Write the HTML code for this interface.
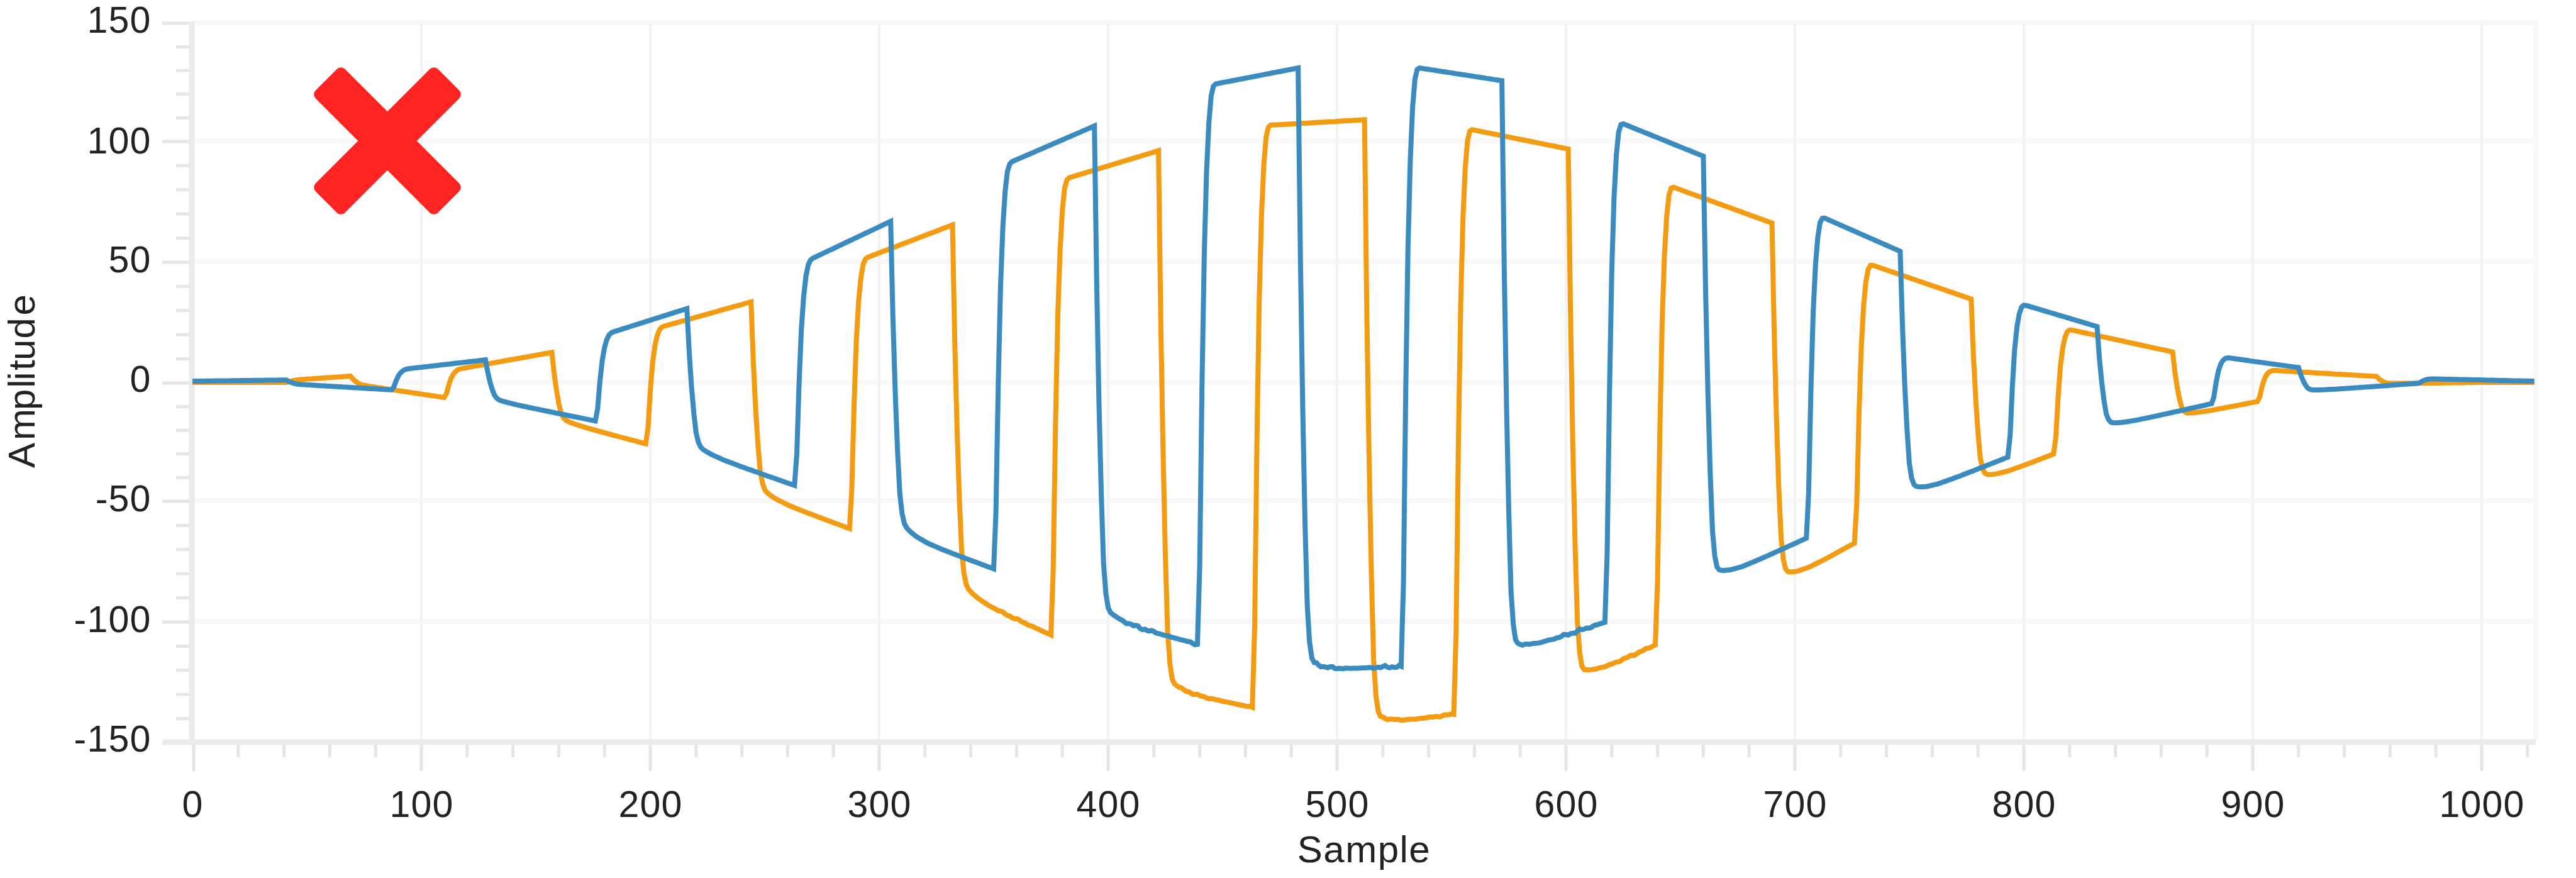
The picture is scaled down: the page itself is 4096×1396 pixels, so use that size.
<!DOCTYPE html>
<html lang="en"><head><meta charset="utf-8"><title>Amplitude vs Sample</title>
<style>html,body{margin:0;padding:0;background:#fff;}svg{display:block;}text{font-family:"Liberation Sans",Arial,sans-serif;fill:#222;}</style></head><body>
<svg width="4096" height="1396" viewBox="0 0 4096 1396">
<rect x="0" y="0" width="4096" height="1396" fill="#ffffff"/>
<g stroke="#f8f8f8" stroke-width="8" fill="none"><line x1="306" y1="36.0" x2="4036" y2="36.0"/><line x1="306" y1="224.0" x2="4036" y2="224.0"/><line x1="306" y1="416.0" x2="4036" y2="416.0"/><line x1="306" y1="608.0" x2="4036" y2="608.0"/><line x1="306" y1="796.0" x2="4036" y2="796.0"/><line x1="306" y1="988.0" x2="4036" y2="988.0"/><line x1="4032" y1="36" x2="4032" y2="1180"/></g>
<g stroke="#f3f3f3" stroke-width="4.5" fill="none"><line x1="670.0" y1="36" x2="670.0" y2="1180"/><line x1="1034.0" y1="36" x2="1034.0" y2="1180"/><line x1="1398.0" y1="36" x2="1398.0" y2="1180"/><line x1="1762.0" y1="36" x2="1762.0" y2="1180"/><line x1="2126.0" y1="36" x2="2126.0" y2="1180"/><line x1="2490.0" y1="36" x2="2490.0" y2="1180"/><line x1="2854.0" y1="36" x2="2854.0" y2="1180"/><line x1="3218.0" y1="36" x2="3218.0" y2="1180"/><line x1="3582.0" y1="36" x2="3582.0" y2="1180"/><line x1="3946.0" y1="36" x2="3946.0" y2="1180"/></g>
<g stroke="#e6e6e6" stroke-width="5" fill="none"><line x1="308.0" y1="1182" x2="308.0" y2="1226"/><line x1="378.8" y1="1182" x2="378.8" y2="1204"/><line x1="451.6" y1="1182" x2="451.6" y2="1204"/><line x1="524.4" y1="1182" x2="524.4" y2="1204"/><line x1="597.2" y1="1182" x2="597.2" y2="1204"/><line x1="670.0" y1="1182" x2="670.0" y2="1226"/><line x1="742.8" y1="1182" x2="742.8" y2="1204"/><line x1="815.6" y1="1182" x2="815.6" y2="1204"/><line x1="888.4" y1="1182" x2="888.4" y2="1204"/><line x1="961.2" y1="1182" x2="961.2" y2="1204"/><line x1="1034.0" y1="1182" x2="1034.0" y2="1226"/><line x1="1106.8" y1="1182" x2="1106.8" y2="1204"/><line x1="1179.6" y1="1182" x2="1179.6" y2="1204"/><line x1="1252.4" y1="1182" x2="1252.4" y2="1204"/><line x1="1325.2" y1="1182" x2="1325.2" y2="1204"/><line x1="1398.0" y1="1182" x2="1398.0" y2="1226"/><line x1="1470.8" y1="1182" x2="1470.8" y2="1204"/><line x1="1543.6" y1="1182" x2="1543.6" y2="1204"/><line x1="1616.4" y1="1182" x2="1616.4" y2="1204"/><line x1="1689.2" y1="1182" x2="1689.2" y2="1204"/><line x1="1762.0" y1="1182" x2="1762.0" y2="1226"/><line x1="1834.8" y1="1182" x2="1834.8" y2="1204"/><line x1="1907.6" y1="1182" x2="1907.6" y2="1204"/><line x1="1980.4" y1="1182" x2="1980.4" y2="1204"/><line x1="2053.2" y1="1182" x2="2053.2" y2="1204"/><line x1="2126.0" y1="1182" x2="2126.0" y2="1226"/><line x1="2198.8" y1="1182" x2="2198.8" y2="1204"/><line x1="2271.6" y1="1182" x2="2271.6" y2="1204"/><line x1="2344.4" y1="1182" x2="2344.4" y2="1204"/><line x1="2417.2" y1="1182" x2="2417.2" y2="1204"/><line x1="2490.0" y1="1182" x2="2490.0" y2="1226"/><line x1="2562.8" y1="1182" x2="2562.8" y2="1204"/><line x1="2635.6" y1="1182" x2="2635.6" y2="1204"/><line x1="2708.4" y1="1182" x2="2708.4" y2="1204"/><line x1="2781.2" y1="1182" x2="2781.2" y2="1204"/><line x1="2854.0" y1="1182" x2="2854.0" y2="1226"/><line x1="2926.8" y1="1182" x2="2926.8" y2="1204"/><line x1="2999.6" y1="1182" x2="2999.6" y2="1204"/><line x1="3072.4" y1="1182" x2="3072.4" y2="1204"/><line x1="3145.2" y1="1182" x2="3145.2" y2="1204"/><line x1="3218.0" y1="1182" x2="3218.0" y2="1226"/><line x1="3290.8" y1="1182" x2="3290.8" y2="1204"/><line x1="3363.6" y1="1182" x2="3363.6" y2="1204"/><line x1="3436.4" y1="1182" x2="3436.4" y2="1204"/><line x1="3509.2" y1="1182" x2="3509.2" y2="1204"/><line x1="3582.0" y1="1182" x2="3582.0" y2="1226"/><line x1="3654.8" y1="1182" x2="3654.8" y2="1204"/><line x1="3727.6" y1="1182" x2="3727.6" y2="1204"/><line x1="3800.4" y1="1182" x2="3800.4" y2="1204"/><line x1="3873.2" y1="1182" x2="3873.2" y2="1204"/><line x1="3946.0" y1="1182" x2="3946.0" y2="1226"/><line x1="4018.8" y1="1182" x2="4018.8" y2="1204"/><line x1="258" y1="37.0" x2="302" y2="37.0"/><line x1="280" y1="74.6" x2="302" y2="74.6"/><line x1="280" y1="112.2" x2="302" y2="112.2"/><line x1="280" y1="149.8" x2="302" y2="149.8"/><line x1="280" y1="187.4" x2="302" y2="187.4"/><line x1="258" y1="225.0" x2="302" y2="225.0"/><line x1="280" y1="263.4" x2="302" y2="263.4"/><line x1="280" y1="301.8" x2="302" y2="301.8"/><line x1="280" y1="340.2" x2="302" y2="340.2"/><line x1="280" y1="378.6" x2="302" y2="378.6"/><line x1="258" y1="417.0" x2="302" y2="417.0"/><line x1="280" y1="455.4" x2="302" y2="455.4"/><line x1="280" y1="493.8" x2="302" y2="493.8"/><line x1="280" y1="532.2" x2="302" y2="532.2"/><line x1="280" y1="570.6" x2="302" y2="570.6"/><line x1="258" y1="609.0" x2="302" y2="609.0"/><line x1="280" y1="646.6" x2="302" y2="646.6"/><line x1="280" y1="684.2" x2="302" y2="684.2"/><line x1="280" y1="721.8" x2="302" y2="721.8"/><line x1="280" y1="759.4" x2="302" y2="759.4"/><line x1="258" y1="797.0" x2="302" y2="797.0"/><line x1="280" y1="835.4" x2="302" y2="835.4"/><line x1="280" y1="873.8" x2="302" y2="873.8"/><line x1="280" y1="912.2" x2="302" y2="912.2"/><line x1="280" y1="950.6" x2="302" y2="950.6"/><line x1="258" y1="989.0" x2="302" y2="989.0"/><line x1="280" y1="1027.4" x2="302" y2="1027.4"/><line x1="280" y1="1065.8" x2="302" y2="1065.8"/><line x1="280" y1="1104.2" x2="302" y2="1104.2"/><line x1="280" y1="1142.6" x2="302" y2="1142.6"/><line x1="258" y1="1181.0" x2="302" y2="1181.0"/></g>
<g stroke="#ebebeb" stroke-width="9" fill="none"><line x1="305" y1="34" x2="305" y2="1184"/><line x1="260" y1="1180" x2="4032" y2="1180"/></g>
<path d="M306.0 608.0 L309.6 608.0 L313.3 608.0 L316.9 608.0 L320.6 608.0 L324.2 608.0 L327.8 608.0 L331.5 608.0 L335.1 608.0 L338.8 608.0 L342.4 608.0 L346.0 608.0 L349.7 608.0 L353.3 608.0 L357.0 608.0 L360.6 608.0 L364.2 608.0 L367.9 608.0 L371.5 608.0 L375.2 608.0 L378.8 608.0 L382.4 608.0 L386.1 608.0 L389.7 608.0 L393.4 608.0 L397.0 608.0 L400.6 608.0 L404.3 608.0 L407.9 608.0 L411.6 608.0 L415.2 608.0 L418.8 608.0 L422.5 608.0 L426.1 608.0 L429.8 608.0 L433.4 608.0 L437.0 608.0 L440.7 608.0 L444.3 608.0 L448.0 608.0 L451.6 608.0 L455.2 608.0 L458.9 607.3 L462.5 606.1 L466.2 605.1 L469.8 604.4 L473.4 603.9 L477.1 603.5 L480.7 603.2 L484.4 603.0 L488.0 602.7 L491.6 602.5 L495.3 602.3 L498.9 602.0 L502.6 601.8 L506.2 601.5 L509.8 601.3 L513.5 601.0 L517.1 600.8 L520.8 600.5 L524.4 600.3 L528.0 600.1 L531.7 599.8 L535.3 599.6 L539.0 599.3 L542.6 599.1 L546.2 598.8 L549.9 598.6 L553.5 598.3 L557.2 598.1 L560.8 602.3 L564.4 605.6 L568.1 608.3 L571.7 610.5 L575.4 611.7 L579.0 612.6 L582.6 613.3 L586.3 613.9 L589.9 614.5 L593.6 615.0 L597.2 615.6 L600.8 616.2 L604.5 616.7 L608.1 617.3 L611.8 617.9 L615.4 618.4 L619.0 619.0 L622.7 619.5 L626.3 620.1 L630.0 620.6 L633.6 621.2 L637.2 621.7 L640.9 622.2 L644.5 622.8 L648.2 623.3 L651.8 623.9 L655.4 624.4 L659.1 625.0 L662.7 625.5 L666.4 626.0 L670.0 626.6 L673.6 627.1 L677.3 627.7 L680.9 628.2 L684.6 628.8 L688.2 629.3 L691.8 629.8 L695.5 630.4 L699.1 630.9 L702.8 631.5 L706.4 632.0 L710.0 625.6 L713.7 611.8 L717.3 601.3 L721.0 594.6 L724.6 590.4 L728.2 587.8 L731.9 586.5 L735.5 585.7 L739.2 585.0 L742.8 584.4 L746.4 583.7 L750.1 583.1 L753.7 582.4 L757.4 581.8 L761.0 581.1 L764.6 580.5 L768.3 579.8 L771.9 579.2 L775.6 578.5 L779.2 577.9 L782.8 577.2 L786.5 576.6 L790.1 575.9 L793.8 575.3 L797.4 574.6 L801.0 574.0 L804.7 573.3 L808.3 572.7 L812.0 572.0 L815.6 571.4 L819.2 570.8 L822.9 570.1 L826.5 569.5 L830.2 568.8 L833.8 568.2 L837.4 567.5 L841.1 566.9 L844.7 566.2 L848.4 565.6 L852.0 564.9 L855.6 564.3 L859.3 563.6 L862.9 563.0 L866.6 562.3 L870.2 561.7 L873.8 561.0 L877.5 560.4 L881.1 594.0 L884.8 620.3 L888.4 640.8 L892.0 656.3 L895.7 663.7 L899.3 667.8 L903.0 670.0 L906.6 671.5 L910.2 672.9 L913.9 674.2 L917.5 675.4 L921.2 676.6 L924.8 677.8 L928.4 678.9 L932.1 680.0 L935.7 681.1 L939.4 682.2 L943.0 683.2 L946.6 684.2 L950.3 685.2 L953.9 686.2 L957.6 687.2 L961.2 688.2 L964.8 689.1 L968.5 690.1 L972.1 691.1 L975.8 692.1 L979.4 693.0 L983.0 694.0 L986.7 695.0 L990.3 695.9 L994.0 696.9 L997.6 697.9 L1001.2 698.8 L1004.9 699.8 L1008.5 700.7 L1012.2 701.7 L1015.8 702.7 L1019.4 703.6 L1023.1 704.6 L1026.7 705.5 L1030.4 679.5 L1034.0 621.5 L1037.6 577.5 L1041.3 550.3 L1044.9 533.8 L1048.6 524.3 L1052.2 520.3 L1055.8 518.7 L1059.5 517.7 L1063.1 516.7 L1066.8 515.6 L1070.4 514.6 L1074.0 513.6 L1077.7 512.6 L1081.3 511.6 L1085.0 510.5 L1088.6 509.5 L1092.2 508.5 L1095.9 507.5 L1099.5 506.5 L1103.2 505.5 L1106.8 504.4 L1110.4 503.4 L1114.1 502.4 L1117.7 501.4 L1121.4 500.4 L1125.0 499.3 L1128.6 498.3 L1132.3 497.3 L1135.9 496.3 L1139.6 495.3 L1143.2 494.2 L1146.8 493.2 L1150.5 492.2 L1154.1 491.2 L1157.8 490.2 L1161.4 489.2 L1165.0 488.1 L1168.7 487.1 L1172.3 486.1 L1176.0 485.1 L1179.6 484.1 L1183.2 483.0 L1186.9 482.0 L1190.5 481.0 L1194.2 480.0 L1197.8 574.8 L1201.4 648.2 L1205.1 705.4 L1208.7 748.4 L1212.4 768.3 L1216.0 778.5 L1219.6 783.3 L1223.3 786.2 L1226.9 788.9 L1230.6 791.1 L1234.2 793.4 L1237.8 795.4 L1241.5 797.2 L1245.1 799.0 L1248.8 800.9 L1252.4 802.6 L1256.0 804.2 L1259.7 805.7 L1263.3 807.2 L1267.0 808.7 L1270.6 810.2 L1274.2 811.6 L1277.9 813.1 L1281.5 814.5 L1285.2 815.9 L1288.8 817.3 L1292.4 818.6 L1296.1 820.0 L1299.7 821.4 L1303.4 822.8 L1307.0 824.1 L1310.6 825.5 L1314.3 826.9 L1317.9 828.2 L1321.6 829.6 L1325.2 830.9 L1328.8 832.3 L1332.5 833.6 L1336.1 835.0 L1339.8 836.3 L1343.4 837.7 L1347.0 839.1 L1350.7 840.4 L1354.3 780.2 L1358.0 644.7 L1361.6 542.4 L1365.2 479.3 L1368.9 441.6 L1372.5 420.2 L1376.2 411.8 L1379.8 409.1 L1383.4 407.7 L1387.1 406.3 L1390.7 404.9 L1394.4 403.5 L1398.0 402.1 L1401.6 400.7 L1405.3 399.3 L1408.9 398.0 L1412.6 396.6 L1416.2 395.2 L1419.8 393.8 L1423.5 392.4 L1427.1 391.0 L1430.8 389.6 L1434.4 388.2 L1438.0 386.8 L1441.7 385.5 L1445.3 384.1 L1449.0 382.7 L1452.6 381.3 L1456.2 379.9 L1459.9 378.5 L1463.5 377.1 L1467.2 375.7 L1470.8 374.3 L1474.4 373.0 L1478.1 371.6 L1481.7 370.2 L1485.4 368.8 L1489.0 367.4 L1492.6 366.0 L1496.3 364.6 L1499.9 363.2 L1503.6 361.8 L1507.2 360.5 L1510.8 359.1 L1514.5 357.7 L1518.1 540.6 L1521.8 682.2 L1525.4 791.9 L1529.0 874.1 L1532.7 911.1 L1536.3 929.3 L1540.0 936.8 L1543.6 940.9 L1547.2 944.6 L1550.9 947.6 L1554.5 950.7 L1558.2 953.5 L1561.8 955.8 L1565.4 958.2 L1569.1 960.6 L1572.7 963.0 L1576.4 965.0 L1580.0 966.9 L1583.6 968.7 L1587.3 970.9 L1590.9 971.8 L1594.6 973.0 L1598.2 976.3 L1601.8 978.5 L1605.5 979.5 L1609.1 982.1 L1612.8 983.8 L1616.4 983.5 L1620.0 985.2 L1623.7 988.2 L1627.3 989.5 L1631.0 991.3 L1634.6 993.9 L1638.2 995.0 L1641.9 995.9 L1645.5 997.9 L1649.2 999.6 L1652.8 1001.2 L1656.4 1003.0 L1660.1 1004.6 L1663.7 1006.3 L1667.4 1007.9 L1671.0 1009.6 L1674.6 907.9 L1678.3 677.7 L1681.9 504.0 L1685.6 397.6 L1689.2 334.4 L1692.8 299.1 L1696.5 286.1 L1700.1 282.6 L1703.8 281.5 L1707.4 280.4 L1711.0 279.3 L1714.7 278.2 L1718.3 277.1 L1722.0 276.0 L1725.6 274.9 L1729.2 273.7 L1732.9 272.6 L1736.5 271.5 L1740.2 270.4 L1743.8 269.3 L1747.4 268.2 L1751.1 267.1 L1754.7 266.0 L1758.4 264.9 L1762.0 263.8 L1765.6 262.7 L1769.3 261.6 L1772.9 260.5 L1776.6 259.4 L1780.2 258.3 L1783.8 257.2 L1787.5 256.1 L1791.1 255.0 L1794.8 253.9 L1798.4 252.8 L1802.0 251.7 L1805.7 250.6 L1809.3 249.5 L1813.0 248.4 L1816.6 247.3 L1820.2 246.2 L1823.9 245.1 L1827.5 244.0 L1831.2 242.9 L1834.8 241.8 L1838.4 240.7 L1842.1 239.6 L1845.7 511.5 L1849.4 721.1 L1853.0 883.2 L1856.6 1003.7 L1860.3 1055.7 L1863.9 1079.5 L1867.6 1087.2 L1871.2 1090.4 L1874.8 1092.7 L1878.5 1093.6 L1882.1 1096.4 L1885.8 1099.2 L1889.4 1099.8 L1893.0 1101.6 L1896.7 1104.0 L1900.3 1103.9 L1904.0 1103.9 L1907.6 1106.1 L1911.2 1107.0 L1914.9 1107.6 L1918.5 1109.8 L1922.2 1111.0 L1925.8 1110.5 L1929.4 1111.3 L1933.1 1112.5 L1936.7 1113.0 L1940.4 1113.9 L1944.0 1115.0 L1947.6 1115.7 L1951.3 1116.4 L1954.9 1117.1 L1958.6 1117.9 L1962.2 1118.6 L1965.8 1119.4 L1969.5 1120.3 L1973.1 1121.0 L1976.8 1121.7 L1980.4 1122.8 L1984.0 1122.9 L1987.7 1122.9 L1991.3 1124.6 L1995.0 995.1 L1998.6 700.1 L2002.2 477.9 L2005.9 342.2 L2009.5 262.0 L2013.2 217.9 L2016.8 202.3 L2020.4 199.0 L2024.1 198.8 L2027.7 198.6 L2031.4 198.4 L2035.0 198.2 L2038.6 198.0 L2042.3 197.8 L2045.9 197.6 L2049.6 197.4 L2053.2 197.1 L2056.8 196.9 L2060.5 196.7 L2064.1 196.5 L2067.8 196.3 L2071.4 196.1 L2075.0 195.9 L2078.7 195.7 L2082.3 195.5 L2086.0 195.3 L2089.6 195.0 L2093.2 194.8 L2096.9 194.6 L2100.5 194.4 L2104.2 194.2 L2107.8 194.0 L2111.4 193.8 L2115.1 193.6 L2118.7 193.4 L2122.4 193.2 L2126.0 192.9 L2129.6 192.7 L2133.3 192.5 L2136.9 192.3 L2140.6 192.1 L2144.2 191.9 L2147.8 191.7 L2151.5 191.5 L2155.1 191.3 L2158.8 191.1 L2162.4 190.8 L2166.0 190.6 L2169.7 190.4 L2173.3 496.8 L2177.0 732.7 L2180.6 914.7 L2184.2 1049.7 L2187.9 1106.8 L2191.5 1131.2 L2195.2 1139.1 L2198.8 1140.0 L2202.4 1142.4 L2206.1 1144.0 L2209.7 1143.4 L2213.4 1143.3 L2217.0 1143.9 L2220.6 1143.7 L2224.3 1143.9 L2227.9 1145.1 L2231.6 1145.0 L2235.2 1144.3 L2238.8 1143.9 L2242.5 1143.6 L2246.1 1143.4 L2249.8 1143.2 L2253.4 1142.9 L2257.0 1142.5 L2260.7 1142.1 L2264.3 1141.8 L2268.0 1141.3 L2271.6 1140.2 L2275.2 1139.9 L2278.9 1140.1 L2282.5 1139.2 L2286.2 1139.2 L2289.8 1139.9 L2293.4 1138.2 L2297.1 1136.4 L2300.7 1136.8 L2304.4 1136.3 L2308.0 1135.2 L2311.6 1135.7 L2315.3 1005.5 L2318.9 707.7 L2322.6 483.8 L2326.2 347.3 L2329.8 267.1 L2333.5 223.4 L2337.1 208.6 L2340.8 206.2 L2344.4 206.9 L2348.0 207.6 L2351.7 208.4 L2355.3 209.1 L2359.0 209.8 L2362.6 210.6 L2366.2 211.3 L2369.9 212.0 L2373.5 212.8 L2377.2 213.5 L2380.8 214.2 L2384.4 215.0 L2388.1 215.7 L2391.7 216.4 L2395.4 217.2 L2399.0 217.9 L2402.6 218.6 L2406.3 219.3 L2409.9 220.1 L2413.6 220.8 L2417.2 221.5 L2420.8 222.3 L2424.5 223.0 L2428.1 223.7 L2431.8 224.5 L2435.4 225.2 L2439.0 225.9 L2442.7 226.7 L2446.3 227.4 L2450.0 228.1 L2453.6 228.9 L2457.2 229.6 L2460.9 230.3 L2464.5 231.1 L2468.2 231.8 L2471.8 232.5 L2475.4 233.2 L2479.1 234.0 L2482.7 234.7 L2486.4 235.4 L2490.0 236.2 L2493.6 236.9 L2497.3 505.3 L2500.9 711.7 L2504.6 870.7 L2508.2 988.4 L2511.8 1037.7 L2515.5 1059.6 L2519.1 1064.6 L2522.8 1064.9 L2526.4 1065.3 L2530.0 1064.6 L2533.7 1064.3 L2537.3 1063.8 L2541.0 1062.6 L2544.6 1061.6 L2548.2 1060.8 L2551.9 1060.1 L2555.5 1058.5 L2559.2 1056.8 L2562.8 1055.7 L2566.4 1054.1 L2570.1 1052.6 L2573.7 1052.3 L2577.4 1050.6 L2581.0 1047.5 L2584.6 1046.2 L2588.3 1045.0 L2591.9 1042.4 L2595.6 1041.8 L2599.2 1041.9 L2602.8 1039.2 L2606.5 1036.6 L2610.1 1035.6 L2613.8 1033.4 L2617.4 1031.1 L2621.0 1030.5 L2624.7 1029.4 L2628.3 1027.2 L2632.0 1025.6 L2635.6 923.5 L2639.2 689.2 L2642.9 513.2 L2646.5 406.2 L2650.2 343.6 L2653.8 309.9 L2657.4 298.9 L2661.1 297.8 L2664.7 299.1 L2668.4 300.4 L2672.0 301.7 L2675.6 303.1 L2679.3 304.4 L2682.9 305.7 L2686.6 307.0 L2690.2 308.4 L2693.8 309.7 L2697.5 311.0 L2701.1 312.3 L2704.8 313.6 L2708.4 315.0 L2712.0 316.3 L2715.7 317.6 L2719.3 318.9 L2723.0 320.3 L2726.6 321.6 L2730.2 322.9 L2733.9 324.2 L2737.5 325.5 L2741.2 326.9 L2744.8 328.2 L2748.4 329.5 L2752.1 330.8 L2755.7 332.2 L2759.4 333.5 L2763.0 334.8 L2766.6 336.1 L2770.3 337.4 L2773.9 338.8 L2777.6 340.1 L2781.2 341.4 L2784.8 342.7 L2788.5 344.1 L2792.1 345.4 L2795.8 346.7 L2799.4 348.0 L2803.0 349.3 L2806.7 350.7 L2810.3 352.0 L2814.0 353.3 L2817.6 354.6 L2821.2 534.2 L2824.9 672.2 L2828.5 778.5 L2832.2 857.1 L2835.8 890.4 L2839.4 905.0 L2843.1 908.9 L2846.7 909.3 L2850.4 909.3 L2854.0 908.7 L2857.6 908.1 L2861.3 907.2 L2864.9 905.8 L2868.6 904.5 L2872.2 903.3 L2875.8 902.0 L2879.5 900.4 L2883.1 898.5 L2886.8 896.7 L2890.4 894.9 L2894.0 893.1 L2897.7 891.3 L2901.3 889.4 L2905.0 887.5 L2908.6 885.5 L2912.2 883.6 L2915.9 881.6 L2919.5 879.6 L2923.2 877.6 L2926.8 875.6 L2930.4 873.6 L2934.1 871.6 L2937.7 869.6 L2941.4 867.6 L2945.0 865.6 L2948.6 863.7 L2952.3 801.6 L2955.9 658.7 L2959.6 551.4 L2963.2 486.4 L2966.8 448.5 L2970.5 428.3 L2974.1 422.0 L2977.8 421.8 L2981.4 423.0 L2985.0 424.3 L2988.7 425.5 L2992.3 426.8 L2996.0 428.0 L2999.6 429.3 L3003.2 430.5 L3006.9 431.7 L3010.5 433.0 L3014.2 434.2 L3017.8 435.5 L3021.4 436.7 L3025.1 438.0 L3028.7 439.2 L3032.4 440.5 L3036.0 441.7 L3039.6 443.0 L3043.3 444.2 L3046.9 445.5 L3050.6 446.7 L3054.2 448.0 L3057.8 449.2 L3061.5 450.5 L3065.1 451.7 L3068.8 453.0 L3072.4 454.2 L3076.0 455.5 L3079.7 456.7 L3083.3 457.9 L3087.0 459.2 L3090.6 460.4 L3094.2 461.7 L3097.9 462.9 L3101.5 464.2 L3105.2 465.4 L3108.8 466.7 L3112.4 467.9 L3116.1 469.2 L3119.7 470.4 L3123.4 471.7 L3127.0 472.9 L3130.6 474.2 L3134.3 475.4 L3137.9 565.9 L3141.6 635.4 L3145.2 688.8 L3148.8 728.3 L3152.5 745.2 L3156.1 752.5 L3159.8 754.4 L3163.4 754.6 L3167.0 754.5 L3170.7 753.9 L3174.3 753.4 L3178.0 752.7 L3181.6 751.7 L3185.2 750.8 L3188.9 749.8 L3192.5 748.9 L3196.2 747.7 L3199.8 746.4 L3203.4 745.1 L3207.1 743.8 L3210.7 742.5 L3214.4 741.3 L3218.0 739.9 L3221.6 738.6 L3225.3 737.2 L3228.9 735.9 L3232.6 734.5 L3236.2 733.1 L3239.8 731.7 L3243.5 730.3 L3247.1 728.9 L3250.8 727.5 L3254.4 726.1 L3258.0 724.7 L3261.7 723.3 L3265.3 721.9 L3269.0 694.2 L3272.6 630.1 L3276.2 582.0 L3279.9 553.0 L3283.5 536.2 L3287.2 527.3 L3290.8 524.7 L3294.4 524.8 L3298.1 525.6 L3301.7 526.4 L3305.4 527.2 L3309.0 528.0 L3312.6 528.8 L3316.3 529.5 L3319.9 530.3 L3323.6 531.1 L3327.2 531.9 L3330.8 532.7 L3334.5 533.5 L3338.1 534.3 L3341.8 535.1 L3345.4 535.9 L3349.0 536.7 L3352.7 537.5 L3356.3 538.2 L3360.0 539.0 L3363.6 539.8 L3367.2 540.6 L3370.9 541.4 L3374.5 542.2 L3378.2 543.0 L3381.8 543.8 L3385.4 544.6 L3389.1 545.4 L3392.7 546.2 L3396.4 547.0 L3400.0 547.7 L3403.6 548.5 L3407.3 549.3 L3410.9 550.1 L3414.6 550.9 L3418.2 551.7 L3421.8 552.5 L3425.5 553.3 L3429.1 554.1 L3432.8 554.9 L3436.4 555.7 L3440.0 556.4 L3443.7 557.2 L3447.3 558.0 L3451.0 558.8 L3454.6 559.6 L3458.2 591.4 L3461.9 615.7 L3465.5 634.4 L3469.2 648.2 L3472.8 653.9 L3476.4 656.3 L3480.1 656.8 L3483.7 656.6 L3487.4 656.4 L3491.0 656.0 L3494.6 655.6 L3498.3 655.1 L3501.9 654.6 L3505.6 654.0 L3509.2 653.5 L3512.8 652.9 L3516.5 652.3 L3520.1 651.6 L3523.8 651.0 L3527.4 650.3 L3531.0 649.6 L3534.7 649.0 L3538.3 648.3 L3542.0 647.6 L3545.6 646.9 L3549.2 646.2 L3552.9 645.5 L3556.5 644.8 L3560.2 644.1 L3563.8 643.4 L3567.4 642.7 L3571.1 642.0 L3574.7 641.3 L3578.4 640.6 L3582.0 639.9 L3585.6 639.2 L3589.3 638.5 L3592.9 631.5 L3596.6 615.5 L3600.2 603.4 L3603.8 596.1 L3607.5 591.9 L3611.1 589.7 L3614.8 589.1 L3618.4 589.1 L3622.0 589.3 L3625.7 589.6 L3629.3 589.8 L3633.0 590.0 L3636.6 590.2 L3640.2 590.4 L3643.9 590.6 L3647.5 590.8 L3651.2 591.0 L3654.8 591.3 L3658.4 591.5 L3662.1 591.7 L3665.7 591.9 L3669.4 592.1 L3673.0 592.3 L3676.6 592.5 L3680.3 592.7 L3683.9 593.0 L3687.6 593.2 L3691.2 593.4 L3694.8 593.6 L3698.5 593.8 L3702.1 594.0 L3705.8 594.2 L3709.4 594.4 L3713.0 594.7 L3716.7 594.9 L3720.3 595.1 L3724.0 595.3 L3727.6 595.5 L3731.2 595.7 L3734.9 595.9 L3738.5 596.1 L3742.2 596.4 L3745.8 596.6 L3749.4 596.8 L3753.1 597.0 L3756.7 597.2 L3760.4 597.4 L3764.0 597.6 L3767.6 597.8 L3771.3 598.1 L3774.9 598.3 L3778.6 598.5 L3782.2 602.0 L3785.8 604.8 L3789.5 606.9 L3793.1 608.5 L3796.8 609.1 L3800.4 609.4 L3804.0 609.5 L3807.7 609.5 L3811.3 609.5 L3815.0 609.5 L3818.6 609.5 L3822.2 609.5 L3825.9 609.5 L3829.5 609.4 L3833.2 609.4 L3836.8 609.4 L3840.4 609.3 L3844.1 609.3 L3847.7 609.3 L3851.4 609.2 L3855.0 609.2 L3858.6 609.1 L3862.3 609.1 L3865.9 609.0 L3869.6 609.0 L3873.2 608.9 L3876.8 608.9 L3880.5 608.9 L3884.1 608.8 L3887.8 608.8 L3891.4 608.7 L3895.0 608.7 L3898.7 608.6 L3902.3 608.6 L3906.0 608.5 L3909.6 608.5 L3913.2 608.4 L3916.9 608.4 L3920.5 608.3 L3924.2 608.3 L3927.8 608.2 L3931.4 608.2 L3935.1 608.1 L3938.7 608.1 L3942.4 608.0 L3946.0 608.0 L3949.6 608.0 L3953.3 608.0 L3956.9 608.0 L3960.6 608.0 L3964.2 608.0 L3967.8 608.0 L3971.5 608.0 L3975.1 608.0 L3978.8 608.0 L3982.4 608.0 L3986.0 608.0 L3989.7 608.0 L3993.3 608.0 L3997.0 608.0 L4000.6 608.0 L4004.2 608.0 L4007.9 608.0 L4011.5 608.0 L4015.2 608.0 L4018.8 608.0 L4022.4 608.0 L4026.1 608.0 L4029.7 608.0" fill="none" stroke="#f39c12" stroke-width="8" stroke-linejoin="miter" stroke-miterlimit="3" stroke-linecap="butt"/>
<path d="M306.0 606.1 L309.6 606.0 L313.3 606.0 L316.9 606.0 L320.6 605.9 L324.2 605.9 L327.8 605.8 L331.5 605.8 L335.1 605.7 L338.8 605.7 L342.4 605.6 L346.0 605.6 L349.7 605.5 L353.3 605.5 L357.0 605.4 L360.6 605.4 L364.2 605.4 L367.9 605.3 L371.5 605.3 L375.2 605.2 L378.8 605.2 L382.4 605.1 L386.1 605.1 L389.7 605.0 L393.4 605.0 L397.0 604.9 L400.6 604.9 L404.3 604.8 L407.9 604.8 L411.6 604.7 L415.2 604.7 L418.8 604.7 L422.5 604.6 L426.1 604.6 L429.8 604.5 L433.4 604.5 L437.0 604.4 L440.7 604.4 L444.3 604.3 L448.0 604.3 L451.6 604.2 L455.2 604.2 L458.9 606.2 L462.5 607.8 L466.2 609.1 L469.8 610.1 L473.4 610.7 L477.1 611.1 L480.7 611.4 L484.4 611.6 L488.0 611.9 L491.6 612.1 L495.3 612.3 L498.9 612.5 L502.6 612.8 L506.2 613.0 L509.8 613.2 L513.5 613.4 L517.1 613.6 L520.8 613.9 L524.4 614.1 L528.0 614.3 L531.7 614.5 L535.3 614.7 L539.0 614.9 L542.6 615.1 L546.2 615.4 L549.9 615.6 L553.5 615.8 L557.2 616.0 L560.8 616.2 L564.4 616.4 L568.1 616.6 L571.7 616.8 L575.4 617.1 L579.0 617.3 L582.6 617.5 L586.3 617.7 L589.9 617.9 L593.6 618.1 L597.2 618.3 L600.8 618.5 L604.5 618.7 L608.1 619.0 L611.8 619.2 L615.4 619.4 L619.0 619.6 L622.7 619.8 L626.3 615.1 L630.0 605.0 L633.6 597.2 L637.2 592.4 L640.9 589.3 L644.5 587.4 L648.2 586.5 L651.8 586.0 L655.4 585.6 L659.1 585.1 L662.7 584.7 L666.4 584.3 L670.0 583.9 L673.6 583.5 L677.3 583.1 L680.9 582.6 L684.6 582.2 L688.2 581.8 L691.8 581.4 L695.5 581.0 L699.1 580.5 L702.8 580.1 L706.4 579.7 L710.0 579.3 L713.7 578.9 L717.3 578.5 L721.0 578.0 L724.6 577.6 L728.2 577.2 L731.9 576.8 L735.5 576.4 L739.2 575.9 L742.8 575.5 L746.4 575.1 L750.1 574.7 L753.7 574.3 L757.4 573.9 L761.0 573.4 L764.6 573.0 L768.3 572.6 L771.9 572.2 L775.6 592.0 L779.2 607.5 L782.8 619.6 L786.5 628.8 L790.1 633.3 L793.8 635.9 L797.4 637.3 L801.0 638.4 L804.7 639.4 L808.3 640.3 L812.0 641.2 L815.6 642.1 L819.2 643.0 L822.9 643.8 L826.5 644.6 L830.2 645.5 L833.8 646.2 L837.4 647.0 L841.1 647.8 L844.7 648.5 L848.4 649.3 L852.0 650.1 L855.6 650.8 L859.3 651.6 L862.9 652.3 L866.6 653.1 L870.2 653.8 L873.8 654.5 L877.5 655.3 L881.1 656.0 L884.8 656.8 L888.4 657.5 L892.0 658.3 L895.7 659.0 L899.3 659.7 L903.0 660.5 L906.6 661.2 L910.2 662.0 L913.9 662.7 L917.5 663.4 L921.2 664.2 L924.8 664.9 L928.4 665.6 L932.1 666.4 L935.7 667.1 L939.4 667.9 L943.0 668.6 L946.6 669.3 L950.3 649.6 L953.9 606.2 L957.6 573.2 L961.2 552.6 L964.8 539.9 L968.5 532.5 L972.1 529.1 L975.8 527.5 L979.4 526.4 L983.0 525.2 L986.7 524.1 L990.3 522.9 L994.0 521.8 L997.6 520.6 L1001.2 519.5 L1004.9 518.3 L1008.5 517.2 L1012.2 516.0 L1015.8 514.9 L1019.4 513.7 L1023.1 512.5 L1026.7 511.4 L1030.4 510.2 L1034.0 509.1 L1037.6 507.9 L1041.3 506.8 L1044.9 505.6 L1048.6 504.5 L1052.2 503.3 L1055.8 502.2 L1059.5 501.0 L1063.1 499.9 L1066.8 498.7 L1070.4 497.6 L1074.0 496.4 L1077.7 495.3 L1081.3 494.1 L1085.0 493.0 L1088.6 491.8 L1092.2 490.7 L1095.9 560.3 L1099.5 614.3 L1103.2 656.4 L1106.8 688.1 L1110.4 702.9 L1114.1 710.7 L1117.7 714.5 L1121.4 716.9 L1125.0 719.1 L1128.6 721.1 L1132.3 723.0 L1135.9 724.8 L1139.6 726.4 L1143.2 728.0 L1146.8 729.7 L1150.5 731.3 L1154.1 732.7 L1157.8 734.1 L1161.4 735.5 L1165.0 736.8 L1168.7 738.2 L1172.3 739.6 L1176.0 740.9 L1179.6 742.2 L1183.2 743.5 L1186.9 744.9 L1190.5 746.2 L1194.2 747.4 L1197.8 748.7 L1201.4 750.0 L1205.1 751.3 L1208.7 752.6 L1212.4 753.9 L1216.0 755.2 L1219.6 756.5 L1223.3 757.7 L1226.9 759.0 L1230.6 760.3 L1234.2 761.6 L1237.8 762.9 L1241.5 764.1 L1245.1 765.4 L1248.8 766.7 L1252.4 768.0 L1256.0 769.3 L1259.7 770.5 L1263.3 771.8 L1267.0 721.5 L1270.6 608.9 L1274.2 523.7 L1277.9 471.0 L1281.5 439.2 L1285.2 421.0 L1288.8 413.5 L1292.4 410.6 L1296.1 408.8 L1299.7 407.1 L1303.4 405.4 L1307.0 403.7 L1310.6 402.0 L1314.3 400.2 L1317.9 398.5 L1321.6 396.8 L1325.2 395.1 L1328.8 393.3 L1332.5 391.6 L1336.1 389.9 L1339.8 388.2 L1343.4 386.4 L1347.0 384.7 L1350.7 383.0 L1354.3 381.3 L1358.0 379.5 L1361.6 377.8 L1365.2 376.1 L1368.9 374.4 L1372.5 372.7 L1376.2 370.9 L1379.8 369.2 L1383.4 367.5 L1387.1 365.8 L1390.7 364.0 L1394.4 362.3 L1398.0 360.6 L1401.6 358.9 L1405.3 357.1 L1408.9 355.4 L1412.6 353.7 L1416.2 352.0 L1419.8 505.3 L1423.5 624.0 L1427.1 716.1 L1430.8 785.1 L1434.4 816.6 L1438.0 832.4 L1441.7 839.3 L1445.3 843.2 L1449.0 846.7 L1452.6 849.6 L1456.2 852.4 L1459.9 854.9 L1463.5 857.0 L1467.2 859.1 L1470.8 861.2 L1474.4 863.2 L1478.1 865.0 L1481.7 866.5 L1485.4 868.1 L1489.0 869.6 L1492.6 871.2 L1496.3 872.7 L1499.9 874.2 L1503.6 875.7 L1507.2 877.1 L1510.8 878.5 L1514.5 879.9 L1518.1 881.3 L1521.8 882.7 L1525.4 884.1 L1529.0 885.4 L1532.7 886.8 L1536.3 888.2 L1540.0 889.5 L1543.6 890.9 L1547.2 892.2 L1550.9 893.6 L1554.5 894.9 L1558.2 896.3 L1561.8 897.7 L1565.4 899.0 L1569.1 900.4 L1572.7 901.7 L1576.4 903.1 L1580.0 904.4 L1583.6 814.0 L1587.3 609.9 L1590.9 455.8 L1594.6 361.1 L1598.2 304.6 L1601.8 272.9 L1605.5 260.8 L1609.1 257.1 L1612.8 255.5 L1616.4 253.9 L1620.0 252.3 L1623.7 250.8 L1627.3 249.2 L1631.0 247.6 L1634.6 246.0 L1638.2 244.5 L1641.9 242.9 L1645.5 241.3 L1649.2 239.7 L1652.8 238.2 L1656.4 236.6 L1660.1 235.0 L1663.7 233.4 L1667.4 231.8 L1671.0 230.3 L1674.6 228.7 L1678.3 227.1 L1681.9 225.5 L1685.6 224.0 L1689.2 222.4 L1692.8 220.8 L1696.5 219.2 L1700.1 217.7 L1703.8 216.1 L1707.4 214.5 L1711.0 212.9 L1714.7 211.4 L1718.3 209.8 L1722.0 208.2 L1725.6 206.6 L1729.2 205.1 L1732.9 203.5 L1736.5 201.9 L1740.2 200.3 L1743.8 447.6 L1747.4 638.4 L1751.1 785.9 L1754.7 895.9 L1758.4 943.7 L1762.0 965.9 L1765.6 973.8 L1769.3 976.9 L1772.9 979.4 L1776.6 981.8 L1780.2 984.3 L1783.8 985.8 L1787.5 988.6 L1791.1 991.5 L1794.8 991.5 L1798.4 992.5 L1802.0 994.8 L1805.7 994.4 L1809.3 995.1 L1813.0 999.5 L1816.6 1001.1 L1820.2 1000.5 L1823.9 1002.4 L1827.5 1003.3 L1831.2 1002.4 L1834.8 1004.1 L1838.4 1006.6 L1842.1 1007.3 L1845.7 1008.2 L1849.4 1009.6 L1853.0 1010.3 L1856.6 1011.1 L1860.3 1012.2 L1863.9 1013.3 L1867.6 1014.3 L1871.2 1015.3 L1874.8 1016.5 L1878.5 1017.3 L1882.1 1018.0 L1885.8 1019.3 L1889.4 1020.0 L1893.0 1020.5 L1896.7 1023.2 L1900.3 1025.0 L1904.0 1024.4 L1907.6 899.8 L1911.2 616.5 L1914.9 403.1 L1918.5 272.5 L1922.2 195.2 L1925.8 152.5 L1929.4 137.0 L1933.1 133.4 L1936.7 132.7 L1940.4 132.0 L1944.0 131.3 L1947.6 130.6 L1951.3 129.9 L1954.9 129.2 L1958.6 128.5 L1962.2 127.8 L1965.8 127.1 L1969.5 126.4 L1973.1 125.7 L1976.8 125.0 L1980.4 124.3 L1984.0 123.6 L1987.7 122.9 L1991.3 122.2 L1995.0 121.5 L1998.6 120.8 L2002.2 120.1 L2005.9 119.4 L2009.5 118.6 L2013.2 117.9 L2016.8 117.2 L2020.4 116.5 L2024.1 115.8 L2027.7 115.1 L2031.4 114.4 L2035.0 113.7 L2038.6 113.0 L2042.3 112.3 L2045.9 111.6 L2049.6 110.9 L2053.2 110.2 L2056.8 109.5 L2060.5 108.8 L2064.1 108.1 L2067.8 413.2 L2071.4 648.2 L2075.0 829.5 L2078.7 964.1 L2082.3 1021.2 L2086.0 1046.6 L2089.6 1053.3 L2093.2 1053.7 L2096.9 1057.7 L2100.5 1060.4 L2104.2 1059.8 L2107.8 1060.7 L2111.4 1061.7 L2115.1 1059.9 L2118.7 1059.9 L2122.4 1062.8 L2126.0 1063.2 L2129.6 1062.5 L2133.3 1063.2 L2136.9 1063.0 L2140.6 1062.2 L2144.2 1062.5 L2147.8 1062.7 L2151.5 1062.6 L2155.1 1062.5 L2158.8 1062.4 L2162.4 1062.3 L2166.0 1062.1 L2169.7 1062.0 L2173.3 1061.8 L2177.0 1061.2 L2180.6 1061.6 L2184.2 1062.6 L2187.9 1061.6 L2191.5 1060.9 L2195.2 1061.5 L2198.8 1059.7 L2202.4 1058.3 L2206.1 1060.9 L2209.7 1061.8 L2213.4 1060.2 L2217.0 1061.1 L2220.6 1061.1 L2224.3 1058.1 L2227.9 1059.5 L2231.6 926.2 L2235.2 621.8 L2238.8 392.7 L2242.5 253.0 L2246.1 170.9 L2249.8 126.1 L2253.4 110.7 L2257.0 108.1 L2260.7 108.6 L2264.3 109.2 L2268.0 109.7 L2271.6 110.3 L2275.2 110.9 L2278.9 111.4 L2282.5 112.0 L2286.2 112.6 L2289.8 113.1 L2293.4 113.7 L2297.1 114.2 L2300.7 114.8 L2304.4 115.4 L2308.0 115.9 L2311.6 116.5 L2315.3 117.1 L2318.9 117.6 L2322.6 118.2 L2326.2 118.8 L2329.8 119.3 L2333.5 119.9 L2337.1 120.4 L2340.8 121.0 L2344.4 121.6 L2348.0 122.1 L2351.7 122.7 L2355.3 123.3 L2359.0 123.8 L2362.6 124.4 L2366.2 124.9 L2369.9 125.5 L2373.5 126.1 L2377.2 126.6 L2380.8 127.2 L2384.4 127.8 L2388.1 128.3 L2391.7 418.1 L2395.4 641.0 L2399.0 812.8 L2402.6 940.1 L2406.3 993.6 L2409.9 1017.6 L2413.6 1022.9 L2417.2 1024.6 L2420.8 1025.8 L2424.5 1024.1 L2428.1 1023.9 L2431.8 1024.4 L2435.4 1023.6 L2439.0 1023.1 L2442.7 1022.8 L2446.3 1022.4 L2450.0 1021.6 L2453.6 1020.4 L2457.2 1019.4 L2460.9 1018.1 L2464.5 1017.2 L2468.2 1016.9 L2471.8 1015.9 L2475.4 1014.1 L2479.1 1013.6 L2482.7 1011.8 L2486.4 1008.8 L2490.0 1009.0 L2493.6 1009.8 L2497.3 1007.6 L2500.9 1006.7 L2504.6 1006.8 L2508.2 1003.1 L2511.8 1000.2 L2515.5 1001.1 L2519.1 1000.3 L2522.8 998.5 L2526.4 998.8 L2530.0 997.8 L2533.7 995.0 L2537.3 993.7 L2541.0 993.0 L2544.6 991.6 L2548.2 990.5 L2551.9 989.4 L2555.5 878.3 L2559.2 623.1 L2562.8 431.3 L2566.4 314.8 L2570.1 246.7 L2573.7 210.0 L2577.4 198.1 L2581.0 196.9 L2584.6 198.3 L2588.3 199.8 L2591.9 201.3 L2595.6 202.7 L2599.2 204.2 L2602.8 205.7 L2606.5 207.2 L2610.1 208.6 L2613.8 210.1 L2617.4 211.6 L2621.0 213.0 L2624.7 214.5 L2628.3 216.0 L2632.0 217.4 L2635.6 218.9 L2639.2 220.4 L2642.9 221.9 L2646.5 223.3 L2650.2 224.8 L2653.8 226.3 L2657.4 227.7 L2661.1 229.2 L2664.7 230.7 L2668.4 232.2 L2672.0 233.6 L2675.6 235.1 L2679.3 236.6 L2682.9 238.0 L2686.6 239.5 L2690.2 241.0 L2693.8 242.5 L2697.5 243.9 L2701.1 245.4 L2704.8 246.9 L2708.4 248.3 L2712.0 461.3 L2715.7 625.1 L2719.3 751.2 L2723.0 844.7 L2726.6 884.2 L2730.2 901.4 L2733.9 906.1 L2737.5 906.7 L2741.2 907.1 L2744.8 906.6 L2748.4 906.4 L2752.1 905.8 L2755.7 904.8 L2759.4 903.8 L2763.0 902.9 L2766.6 902.0 L2770.3 900.7 L2773.9 899.2 L2777.6 897.7 L2781.2 896.2 L2784.8 894.8 L2788.5 893.3 L2792.1 891.8 L2795.8 890.2 L2799.4 888.6 L2803.0 887.0 L2806.7 885.4 L2810.3 883.8 L2814.0 882.1 L2817.6 880.5 L2821.2 878.9 L2824.9 877.2 L2828.5 875.6 L2832.2 873.9 L2835.8 872.3 L2839.4 870.6 L2843.1 868.9 L2846.7 867.3 L2850.4 865.6 L2854.0 864.0 L2857.6 862.3 L2861.3 860.6 L2864.9 859.0 L2868.6 857.3 L2872.2 855.6 L2875.8 784.2 L2879.5 619.4 L2883.1 495.7 L2886.8 420.8 L2890.4 377.3 L2894.0 354.1 L2897.7 347.0 L2901.3 346.8 L2905.0 348.4 L2908.6 350.0 L2912.2 351.6 L2915.9 353.2 L2919.5 354.8 L2923.2 356.4 L2926.8 358.0 L2930.4 359.6 L2934.1 361.2 L2937.7 362.8 L2941.4 364.4 L2945.0 366.0 L2948.6 367.6 L2952.3 369.2 L2955.9 370.8 L2959.6 372.4 L2963.2 374.0 L2966.8 375.6 L2970.5 377.2 L2974.1 378.8 L2977.8 380.4 L2981.4 382.0 L2985.0 383.6 L2988.7 385.2 L2992.3 386.8 L2996.0 388.4 L2999.6 390.0 L3003.2 391.6 L3006.9 393.2 L3010.5 394.8 L3014.2 396.4 L3017.8 398.0 L3021.4 399.6 L3025.1 520.2 L3028.7 613.0 L3032.4 684.4 L3036.0 737.3 L3039.6 760.1 L3043.3 770.3 L3046.9 773.3 L3050.6 773.9 L3054.2 774.2 L3057.8 773.9 L3061.5 773.7 L3065.1 773.2 L3068.8 772.3 L3072.4 771.5 L3076.0 770.7 L3079.7 769.8 L3083.3 768.7 L3087.0 767.4 L3090.6 766.1 L3094.2 764.9 L3097.9 763.6 L3101.5 762.3 L3105.2 761.0 L3108.8 759.6 L3112.4 758.2 L3116.1 756.9 L3119.7 755.5 L3123.4 754.0 L3127.0 752.6 L3130.6 751.2 L3134.3 749.8 L3137.9 748.4 L3141.6 746.9 L3145.2 745.5 L3148.8 744.1 L3152.5 742.7 L3156.1 741.2 L3159.8 739.8 L3163.4 738.4 L3167.0 736.9 L3170.7 735.5 L3174.3 734.1 L3178.0 732.6 L3181.6 731.2 L3185.2 729.7 L3188.9 728.3 L3192.5 726.9 L3196.2 693.0 L3199.8 614.3 L3203.4 555.3 L3207.1 519.8 L3210.7 499.2 L3214.4 488.4 L3218.0 485.4 L3221.6 485.6 L3225.3 486.7 L3228.9 487.8 L3232.6 488.9 L3236.2 489.9 L3239.8 491.0 L3243.5 492.1 L3247.1 493.2 L3250.8 494.3 L3254.4 495.4 L3258.0 496.5 L3261.7 497.5 L3265.3 498.6 L3269.0 499.7 L3272.6 500.8 L3276.2 501.9 L3279.9 503.0 L3283.5 504.0 L3287.2 505.1 L3290.8 506.2 L3294.4 507.3 L3298.1 508.4 L3301.7 509.5 L3305.4 510.6 L3309.0 511.6 L3312.6 512.7 L3316.3 513.8 L3319.9 514.9 L3323.6 516.0 L3327.2 517.1 L3330.8 518.1 L3334.5 519.2 L3338.1 568.9 L3341.8 607.0 L3345.4 636.3 L3349.0 658.0 L3352.7 667.2 L3356.3 671.2 L3360.0 672.2 L3363.6 672.3 L3367.2 672.2 L3370.9 671.8 L3374.5 671.5 L3378.2 671.1 L3381.8 670.5 L3385.4 670.0 L3389.1 669.4 L3392.7 668.8 L3396.4 668.1 L3400.0 667.4 L3403.6 666.6 L3407.3 665.9 L3410.9 665.2 L3414.6 664.4 L3418.2 663.7 L3421.8 662.9 L3425.5 662.1 L3429.1 661.3 L3432.8 660.5 L3436.4 659.7 L3440.0 658.9 L3443.7 658.1 L3447.3 657.3 L3451.0 656.5 L3454.6 655.7 L3458.2 654.9 L3461.9 654.1 L3465.5 653.3 L3469.2 652.4 L3472.8 651.6 L3476.4 650.8 L3480.1 650.0 L3483.7 649.2 L3487.4 648.4 L3491.0 647.6 L3494.6 646.8 L3498.3 646.0 L3501.9 645.2 L3505.6 644.3 L3509.2 643.5 L3512.8 642.7 L3516.5 641.9 L3520.1 631.7 L3523.8 607.8 L3527.4 589.9 L3531.0 579.1 L3534.7 573.0 L3538.3 569.9 L3542.0 569.1 L3545.6 569.3 L3549.2 569.8 L3552.9 570.3 L3556.5 570.8 L3560.2 571.3 L3563.8 571.8 L3567.4 572.3 L3571.1 572.8 L3574.7 573.3 L3578.4 573.9 L3582.0 574.4 L3585.6 574.9 L3589.3 575.4 L3592.9 575.9 L3596.6 576.4 L3600.2 576.9 L3603.8 577.4 L3607.5 577.9 L3611.1 578.4 L3614.8 578.9 L3618.4 579.4 L3622.0 579.9 L3625.7 580.4 L3629.3 580.9 L3633.0 581.4 L3636.6 581.9 L3640.2 582.4 L3643.9 582.9 L3647.5 583.4 L3651.2 583.9 L3654.8 584.4 L3658.4 596.1 L3662.1 605.0 L3665.7 611.9 L3669.4 617.0 L3673.0 619.1 L3676.6 620.0 L3680.3 620.1 L3683.9 620.1 L3687.6 620.0 L3691.2 619.8 L3694.8 619.7 L3698.5 619.5 L3702.1 619.3 L3705.8 619.1 L3709.4 618.9 L3713.0 618.7 L3716.7 618.5 L3720.3 618.2 L3724.0 618.0 L3727.6 617.8 L3731.2 617.5 L3734.9 617.3 L3738.5 617.0 L3742.2 616.8 L3745.8 616.5 L3749.4 616.3 L3753.1 616.0 L3756.7 615.7 L3760.4 615.5 L3764.0 615.2 L3767.6 615.0 L3771.3 614.7 L3774.9 614.5 L3778.6 614.2 L3782.2 613.9 L3785.8 613.7 L3789.5 613.4 L3793.1 613.2 L3796.8 612.9 L3800.4 612.6 L3804.0 612.4 L3807.7 612.1 L3811.3 611.9 L3815.0 611.6 L3818.6 611.3 L3822.2 611.1 L3825.9 610.8 L3829.5 610.6 L3833.2 610.3 L3836.8 610.0 L3840.4 609.8 L3844.1 609.5 L3847.7 608.5 L3851.4 606.2 L3855.0 604.4 L3858.6 603.4 L3862.3 602.8 L3865.9 602.5 L3869.6 602.5 L3873.2 602.6 L3876.8 602.6 L3880.5 602.7 L3884.1 602.8 L3887.8 602.9 L3891.4 603.0 L3895.0 603.1 L3898.7 603.1 L3902.3 603.2 L3906.0 603.3 L3909.6 603.4 L3913.2 603.5 L3916.9 603.5 L3920.5 603.6 L3924.2 603.7 L3927.8 603.8 L3931.4 603.9 L3935.1 604.0 L3938.7 604.0 L3942.4 604.1 L3946.0 604.2 L3949.6 604.3 L3953.3 604.4 L3956.9 604.5 L3960.6 604.5 L3964.2 604.6 L3967.8 604.7 L3971.5 604.8 L3975.1 604.9 L3978.8 604.9 L3982.4 605.0 L3986.0 605.1 L3989.7 605.2 L3993.3 605.3 L3997.0 605.4 L4000.6 605.4 L4004.2 605.5 L4007.9 605.6 L4011.5 605.7 L4015.2 605.8 L4018.8 605.8 L4022.4 605.9 L4026.1 606.0 L4029.7 606.1" fill="none" stroke="#3a8bbf" stroke-width="8" stroke-linejoin="miter" stroke-miterlimit="3" stroke-linecap="butt"/>
<g transform="translate(616 224) rotate(45)" fill="#ff2424"><rect x="-137.5" y="-33" width="275" height="66" rx="9"/><rect x="-33" y="-137.5" width="66" height="275" rx="9"/></g>
<text x="240.5" y="51.8" text-anchor="end" font-size="59" letter-spacing="1.2">150</text><text x="240.5" y="243.7" text-anchor="end" font-size="59" letter-spacing="1.2">100</text><text x="240.5" y="433.1" text-anchor="end" font-size="59" letter-spacing="1.2">50</text><text x="240.5" y="622.7" text-anchor="end" font-size="59" letter-spacing="1.2">0</text><text x="240.5" y="812.6" text-anchor="end" font-size="59" letter-spacing="1.2">-50</text><text x="240.5" y="1004.6" text-anchor="end" font-size="59" letter-spacing="1.2">-100</text><text x="240.5" y="1194.8" text-anchor="end" font-size="59" letter-spacing="1.2">-150</text><text x="306.6" y="1299" text-anchor="middle" font-size="59" letter-spacing="1.2">0</text><text x="670.6" y="1299" text-anchor="middle" font-size="59" letter-spacing="1.2">100</text><text x="1034.6" y="1299" text-anchor="middle" font-size="59" letter-spacing="1.2">200</text><text x="1398.6" y="1299" text-anchor="middle" font-size="59" letter-spacing="1.2">300</text><text x="1762.6" y="1299" text-anchor="middle" font-size="59" letter-spacing="1.2">400</text><text x="2126.6" y="1299" text-anchor="middle" font-size="59" letter-spacing="1.2">500</text><text x="2490.6" y="1299" text-anchor="middle" font-size="59" letter-spacing="1.2">600</text><text x="2854.6" y="1299" text-anchor="middle" font-size="59" letter-spacing="1.2">700</text><text x="3218.6" y="1299" text-anchor="middle" font-size="59" letter-spacing="1.2">800</text><text x="3582.6" y="1299" text-anchor="middle" font-size="59" letter-spacing="1.2">900</text><text x="3946.6" y="1299" text-anchor="middle" font-size="59" letter-spacing="1.2">1000</text><text x="2169" y="1371" text-anchor="middle" font-size="60" letter-spacing="1.5">Sample</text><text transform="translate(54.5 744) rotate(-90)" font-size="60" x="0 44 92 127.3 139.3 155 171 205.5 242.5" y="0">Amplitude</text>
</svg></body></html>
